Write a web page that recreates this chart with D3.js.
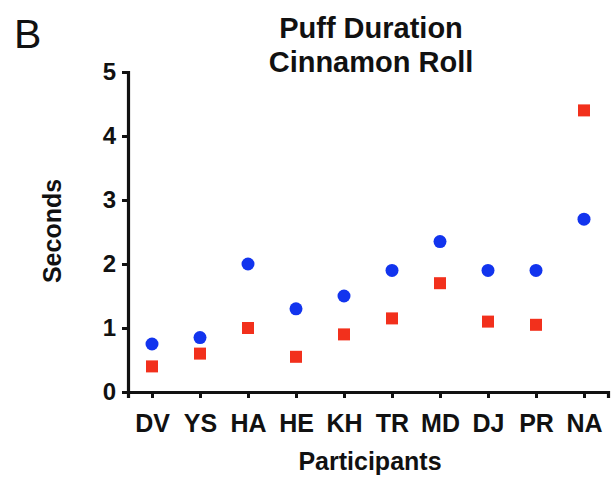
<!DOCTYPE html>
<html>
<head>
<meta charset="utf-8">
<script src="https://cdn.jsdelivr.net/npm/d3@7"></script>
<style>
  body { margin: 0; background: #fff; }
  svg { display: block; font-family: "Liberation Sans", Arial, sans-serif; }
</style>
</head>
<body>
<svg></svg>
<script>
// participants and the two measured series (seconds)
const participants = ["DV", "YS", "HA", "HE", "KH", "TR", "MD", "DJ", "PR", "NA"];
const blueValues = [0.75, 0.85, 2.0, 1.3, 1.5, 1.9, 2.35, 1.9, 1.9, 2.7];
const redValues = [0.4, 0.6, 1.0, 0.55, 0.9, 1.15, 1.7, 1.1, 1.05, 4.4];
const yTicks = [0, 1, 2, 3, 4, 5];
const titleLines = ["Puff Duration", "Cinnamon Roll"];

drawChart();

function drawChart(){
    const width = 611;
    const height = 477;

    const svg = d3.select("svg")
                    .attr("width", width)
                    .attr("height", height);

    // x axis spans 128..608, points sit at half-step padding
    const xScale = d3.scalePoint()
                        .domain(participants)
                        .range([128, 608])
                        .padding(0.5);

    const yScale = d3.scaleLinear()
                        .domain([0, 5])
                        .range([392, 72]);

    const xAxis = d3.axisBottom(xScale)
                        .tickSizeOuter(0)
                        .tickSize(6)
                        .tickPadding(16);

    const yAxis = d3.axisLeft(yScale)
                        .tickValues(yTicks)
                        .tickFormat(d3.format("d"))
                        .tickSizeOuter(0)
                        .tickSize(6)
                        .tickPadding(6);

    const gx = svg.append("g")
        .attr("transform", "translate(0, 392)")
        .call(xAxis);

    const gy = svg.append("g")
        .attr("transform", "translate(128, 0)")
        .call(yAxis);

    [gx, gy].forEach(g => {
        g.select(".domain").attr("stroke", "#111").attr("stroke-width", 3.2);
        g.selectAll(".tick line").attr("stroke", "#111").attr("stroke-width", 3);
        g.selectAll(".tick text")
            .attr("fill", "#111")
            .style("font-weight", "bold");
    });
    gx.selectAll(".tick text").style("font-size", "25px");
    gy.selectAll(".tick text").style("font-size", "24px");

    // red squares
    svg.selectAll("rect.red")
        .data(redValues)
        .enter()
        .append("rect")
        .attr("class", "red")
        .attr("x", (d, i) => xScale(participants[i]) - 6)
        .attr("y", d => yScale(d) - 6)
        .attr("width", 12)
        .attr("height", 12)
        .attr("fill", "#f2301c");

    // blue circles
    svg.selectAll("circle.blue")
        .data(blueValues)
        .enter()
        .append("circle")
        .attr("class", "blue")
        .attr("cx", (d, i) => xScale(participants[i]))
        .attr("cy", d => yScale(d))
        .attr("r", 6.5)
        .attr("fill", "#1234ee");

    // title
    svg.append("text")
        .attr("x", 371)
        .attr("y", 38)
        .attr("text-anchor", "middle")
        .style("font-size", "29px")
        .style("font-weight", "bold")
        .attr("fill", "#111")
        .selectAll("tspan")
        .data(titleLines)
        .enter()
        .append("tspan")
        .attr("x", 371)
        .attr("dy", (d, i) => i === 0 ? 0 : 34)
        .text(d => d);

    // panel letter
    svg.append("text")
        .attr("x", 14)
        .attr("y", 48)
        .style("font-size", "41px")
        .attr("fill", "#111")
        .text("B");

    // y axis title
    svg.append("text")
        .attr("transform", "translate(61, 231) rotate(-90)")
        .attr("text-anchor", "middle")
        .style("font-size", "25px")
        .style("font-weight", "bold")
        .attr("fill", "#111")
        .text("Seconds");

    // x axis title
    svg.append("text")
        .attr("x", 370)
        .attr("y", 470)
        .attr("text-anchor", "middle")
        .style("font-size", "25px")
        .style("font-weight", "bold")
        .attr("fill", "#111")
        .text("Participants");
}
</script>
</body>
</html>
